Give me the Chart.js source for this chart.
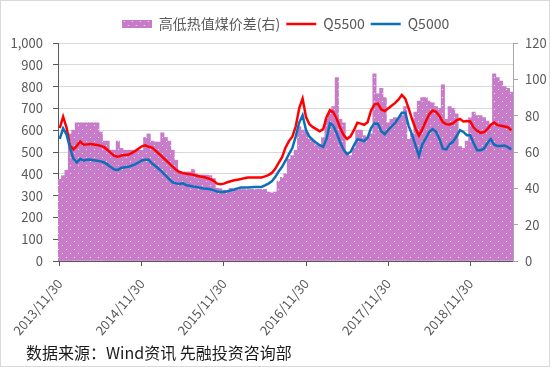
<!DOCTYPE html>
<html>
<head>
<meta charset="utf-8">
<script src="https://cdn.jsdelivr.net/npm/chart.js@4/dist/chart.umd.min.js"></script>
<style>
  html, body { margin: 0; padding: 0; background: #fff; }
  #wrap { position: relative; width: 550px; height: 367px; overflow: hidden; }
  #c { position: absolute; left: 0; top: 0; }
  #frame { position: absolute; left: 0; top: 0; width: 548px; height: 365px; border: 1px solid #d9d9d9; pointer-events: none; }
  #src { position: absolute; left: 26px; top: 342px; font-family: 'Noto Sans CJK SC', sans-serif; font-size: 16px; color: #1a1a1a; white-space: nowrap; line-height: 20px; }
</style>
</head>
<body>
<div id="wrap">
  <canvas id="c" width="550" height="367"></canvas>
  <div id="src">数据来源：Wind资讯 先融投资咨询部</div>
  <div id="frame"></div>
</div>
<script>
const dates = [
"2013/11/30","2013/12/15","2013/12/31",
"2014/01/15","2014/01/31","2014/02/15","2014/02/28","2014/03/15","2014/03/31","2014/04/15","2014/04/30","2014/05/15","2014/05/31","2014/06/15","2014/06/30",
"2014/07/15","2014/07/31","2014/08/15","2014/08/31","2014/09/15","2014/09/30","2014/10/15","2014/10/31","2014/11/15","2014/11/30","2014/12/15","2014/12/31",
"2015/01/15","2015/01/31","2015/02/15","2015/02/28","2015/03/15","2015/03/31","2015/04/15","2015/04/30","2015/05/15","2015/05/31","2015/06/15","2015/06/30",
"2015/07/15","2015/07/31","2015/08/15","2015/08/31","2015/09/15","2015/09/30","2015/10/15","2015/10/31","2015/11/15","2015/11/30","2015/12/15","2015/12/31",
"2016/01/15","2016/01/31","2016/02/15","2016/02/29","2016/03/15","2016/03/31","2016/04/15","2016/04/30","2016/05/15","2016/05/31","2016/06/15","2016/06/30",
"2016/07/15","2016/07/31","2016/08/15","2016/08/31","2016/09/15","2016/09/30","2016/10/15","2016/10/31","2016/11/15","2016/11/30","2016/12/15","2016/12/31",
"2017/01/15","2017/01/31","2017/02/15","2017/02/28","2017/03/15","2017/03/31","2017/04/15","2017/04/30","2017/05/15","2017/05/31","2017/06/15","2017/06/30",
"2017/07/15","2017/07/31","2017/08/15","2017/08/31","2017/09/15","2017/09/30","2017/10/15","2017/10/31","2017/11/15","2017/11/30","2017/12/15","2017/12/31",
"2018/01/15","2018/01/31","2018/02/15","2018/02/28","2018/03/15","2018/03/31","2018/04/15","2018/04/30","2018/05/15","2018/05/31","2018/06/15","2018/06/30",
"2018/07/15","2018/07/31","2018/08/15","2018/08/31","2018/09/15","2018/09/30","2018/10/15","2018/10/31","2018/11/15","2018/11/30","2018/12/15","2018/12/31",
"2019/01/15","2019/01/31","2019/02/15","2019/02/28","2019/03/15","2019/03/31","2019/04/15","2019/04/30","2019/05/15","2019/05/31"
];

// 高低热值煤价差 (right axis)
const spread = [
45,47,50,70,72,76,76,76,76,76,76,76,71,66,66,61,61,66,62,61,61,61,61,61,61,68,70,
66,65.5,65.5,70.5,68,66,61,55.5,49,49,49,49,50.4,48,47.3,47.3,47.3,47,45.4,40,39.8,39,38,40,
39,39.5,39.4,39.4,39.4,39.4,39.4,39.4,39.4,39.4,38,37.5,38,44,46,48,56,58,61,74,72,71,67,66,64,64,68,78,82,85,
101,78,76,60,58,62,72,72,69,68,70,103,92,95,90,76,78,79,78,80,85,67,70,82,88,90,90,88,87,85,84,97,78,85,84,81,
63,62,66,79,82,80,80,79,77,75,103,101,99,96,95,93
];

// Q5500 (left axis)
const q5500 = [
610,662,612,530,512,528,548,533,535,537,534,532,528,522,509,495,482,478,484,486,487,495,504,515,526,531,524,
520,506,492,478,463,448,433,419,408,403,400,398,396,391,388,385,381,376,368,355,352,355,361,366,
370,373,376,380,383,383,383,383,383,388,394,404,423,450,476,520,550,570,618,700,745,660,627,614,605,595,605,660,692,682,
650,610,578,560,572,600,634,630,625,637,690,718,722,695,688,700,712,724,740,762,745,700,650,608,575,605,640,673,690,684,665,637,627,626,632,645,
652,640,642,640,612,597,588,591,605,625,635,623,620,617,614,600
];

// Q5000 (left axis)
const q5000 = [
560,608,580,520,470,452,468,460,465,464,462,460,457,452,442,430,420,418,427,430,432,437,443,452,461,465,465,
447,436,422,408,392,376,361,356,353,357,347,345,342,339,336,333,331,329,325,319,317,317,320,324,
328,333,337,337,337,338,339,340,340,347,355,366,385,411,432,460,490,518,572,635,668,600,570,555,542,531,524,560,632,620,
585,543,510,490,500,530,558,555,550,566,610,631,630,595,582,601,617,633,655,680,680,620,580,530,482,535,562,592,605,593,560,515,512,536,548,572,
600,592,577,577,540,508,508,515,540,560,533,528,528,530,522,512
];

const yearTicks = ["2013/11/30","2014/11/30","2015/11/30","2016/11/30","2017/11/30","2018/11/30"];

const FONT = "'Noto Sans CJK SC', 'Noto Sans', sans-serif";
const PURPLE = '#c77bc8';

function makePatternCanvas(w, h) {
  const pc = document.createElement('canvas');
  pc.width = w; pc.height = h;
  const g = pc.getContext('2d');
  g.fillStyle = PURPLE;
  g.fillRect(0, 0, w, h);
  g.fillStyle = 'rgba(255,255,255,0.85)';
  for (let y = 1; y < h; y += 8) {
    for (let x = 2; x < w; x += 8) g.fillRect(x, y, 1, 1);
  }
  for (let y = 5; y < h; y += 8) {
    for (let x = 6; x < w; x += 8) g.fillRect(x, y, 1, 1);
  }
  return pc;
}

const canvas = document.getElementById('c');
const ctx = canvas.getContext('2d');
const tile = makePatternCanvas(8, 8);
const barPattern = ctx.createPattern(tile, 'repeat');
const legendSwatch = makePatternCanvas(30, 8);

const legendExtra = {
  id: 'legendExtra',
  beforeInit(chart) {
    const lg = chart.legend;
    if (!lg) return;
    const orig = lg.fit;
    lg.fit = function () { orig.call(this); this.height += 2; };
  }
};

new Chart(ctx, {
  type: 'bar',
  data: {
    labels: dates,
    datasets: [
      {
        type: 'bar',
        label: '高低热值煤价差(右)',
        data: spread,
        yAxisID: 'y1',
        backgroundColor: barPattern,
        borderWidth: 0,
        barPercentage: 1,
        categoryPercentage: 1,
        pointStyle: legendSwatch,
        order: 2
      },
      {
        type: 'line',
        label: 'Q5500',
        data: q5500,
        yAxisID: 'y',
        borderColor: '#ff0000',
        backgroundColor: '#ff0000',
        borderWidth: 2.5,
        pointRadius: 0,
        pointStyle: 'line',
        tension: 0,
        order: 1
      },
      {
        type: 'line',
        label: 'Q5000',
        data: q5000,
        yAxisID: 'y',
        borderColor: '#0b6fba',
        backgroundColor: '#0b6fba',
        borderWidth: 2.5,
        pointRadius: 0,
        pointStyle: 'line',
        tension: 0,
        order: 0
      }
    ]
  },
  options: {
    responsive: false,
    animation: false,
    devicePixelRatio: 1,
    layout: { padding: { top: 11, left: 0, right: 0, bottom: 0 } },
    plugins: {
      tooltip: { enabled: false },
      legend: {
        position: 'top',
        fullSize: false,
        labels: {
          font: { family: FONT, size: 14 },
          color: '#595959',
          usePointStyle: true,
          pointStyleWidth: 30,
          boxHeight: 8,
          padding: 6,
          sort: (a, b) => a.datasetIndex - b.datasetIndex
        }
      }
    },
    scales: {
      x: {
        type: 'category',
        offset: true,
        afterBuildTicks(scale) {
          scale.ticks = scale.ticks.filter(t => yearTicks.includes(dates[t.value]));
        },
        afterFit(scale) { scale.height = 106; },
        grid: { display: true, drawOnChartArea: false, offset: false, tickLength: 5, color: '#595959', tickColor: '#595959' },
        border: { display: true, color: '#595959' },
        ticks: {
          autoSkip: false,
          minRotation: 50,
          maxRotation: 50,
          padding: 10,
          color: '#595959',
          font: { family: FONT, size: 13 },
          callback(value) { return this.getLabelForValue(value); }
        }
      },
      y: {
        position: 'left',
        min: 0,
        max: 1000,
        afterFit(scale) { scale.width = 58; },
        grid: { color: '#d9d9d9', tickColor: '#595959', tickLength: 5, drawTicks: true },
        border: { display: true, color: '#595959' },
        ticks: {
          stepSize: 100,
          padding: 10,
          color: '#595959',
          font: { family: FONT, size: 13 },
          callback: (v) => v.toLocaleString('en-US')
        }
      },
      y1: {
        position: 'right',
        min: 0,
        max: 120,
        afterFit(scale) { scale.width = 37; },
        grid: { drawOnChartArea: false, tickColor: '#a6a6a6', tickLength: 5 },
        border: { display: true, color: '#a6a6a6' },
        ticks: {
          stepSize: 20,
          padding: 7,
          color: '#595959',
          font: { family: FONT, size: 13 }
        }
      }
    }
  },
  plugins: [legendExtra]
});
</script>
</body>
</html>
